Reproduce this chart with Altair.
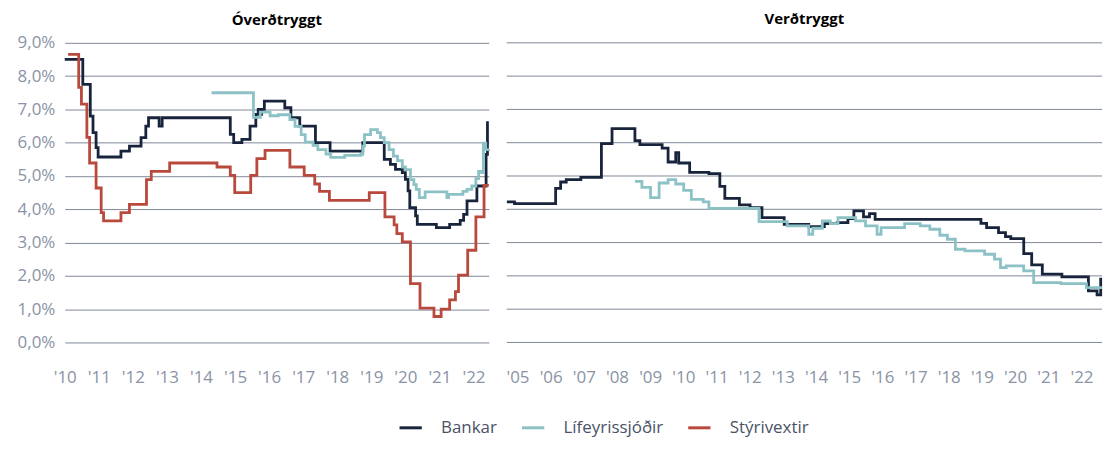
import altair as alt
import pandas as pd

# ---------------- data (percent) ----------------
series_names = ["Bankar", "Lífeyrissjóðir", "Stýrivextir"]
series_colors = ["#18243c", "#8cc2c6", "#b8493c"]

# Óverðtryggt (non-indexed)
bank_ov_t = [2010.00, 2010.53, 2010.75, 2010.83, 2010.92, 2010.98, 2011.65, 2011.90, 2012.24, 2012.38,
             2012.46, 2012.77, 2012.86, 2014.86, 2014.96, 2015.20, 2015.44, 2015.61, 2015.68, 2015.72,
             2015.78, 2015.86, 2016.46, 2016.64, 2016.90, 2017.36, 2017.79, 2018.75, 2019.38, 2019.56,
             2019.71, 2019.91, 2020.00, 2020.08, 2020.13, 2020.30, 2020.35, 2020.91, 2021.30, 2021.61,
             2021.71, 2021.81, 2022.10, 2022.37, 2022.41, 2022.45]
bank_ov_v = [8.50, 7.75, 6.80, 6.30, 5.85, 5.57, 5.75, 5.90, 6.15, 6.50,
             6.75, 6.50, 6.75, 6.25, 6.00, 6.10, 6.50, 6.85, 7.00, 6.85,
             7.00, 7.25, 7.05, 6.75, 6.50, 6.00, 5.75, 6.00, 5.50, 5.35,
             5.20, 5.10, 4.90, 4.55, 4.05, 3.80, 3.55, 3.45, 3.55, 3.67,
             3.85, 4.25, 4.70, 5.65, 6.60, 6.60]

life_ov_t = [2014.31, 2015.54, 2015.74, 2016.03, 2016.27, 2016.61, 2016.76, 2016.94, 2017.06, 2017.29,
             2017.43, 2017.67, 2017.81, 2018.22, 2018.69, 2018.75, 2018.80, 2018.98, 2019.18, 2019.27,
             2019.38, 2019.52, 2019.65, 2019.77, 2019.91, 2020.00, 2020.15, 2020.25, 2020.32, 2020.41,
             2020.58, 2021.22, 2021.27, 2021.69, 2021.81, 2021.95, 2022.07, 2022.15, 2022.24, 2022.29,
             2022.36, 2022.45]
life_ov_v = [7.50, 6.76, 6.92, 6.81, 6.84, 6.69, 6.49, 6.24, 6.02, 5.92,
             5.79, 5.66, 5.56, 5.62, 5.65, 5.90, 6.24, 6.39, 6.30, 6.15,
             6.00, 5.79, 5.60, 5.46, 5.27, 5.19, 4.89, 4.74, 4.60, 4.35,
             4.52, 4.35, 4.45, 4.54, 4.60, 4.70, 4.92, 5.14, 5.10, 5.99,
             5.79, 5.80]

rate_t = [2010.10, 2010.41, 2010.49, 2010.65, 2010.73, 2010.92, 2011.07, 2011.14, 2011.65, 2011.90,
          2012.40, 2012.54, 2013.08, 2014.47, 2014.86, 2014.99, 2015.46, 2015.64, 2015.88, 2016.61,
          2017.03, 2017.34, 2017.48, 2017.77, 2018.94, 2019.40, 2019.67, 2019.75, 2019.91, 2020.15,
          2020.43, 2020.84, 2021.05, 2021.30, 2021.47, 2021.56, 2021.83, 2022.07, 2022.31, 2022.45]
rate_v = [8.65, 7.66, 7.16, 6.16, 5.39, 4.64, 3.90, 3.65, 3.90, 4.15,
          4.89, 5.14, 5.39, 5.27, 5.02, 4.50, 5.02, 5.52, 5.77, 5.27,
          5.02, 4.76, 4.54, 4.27, 4.50, 3.77, 3.53, 3.27, 3.02, 1.77,
          1.03, 0.78, 1.00, 1.28, 1.53, 2.02, 2.77, 3.77, 4.72, 4.72]

# Verðtryggt (indexed)
bank_ve_t = [2004.68, 2004.91, 2006.15, 2006.30, 2006.47, 2006.91, 2007.53, 2007.85, 2008.54, 2008.69,
             2009.36, 2009.54, 2009.77, 2009.86, 2010.19, 2010.77, 2011.10, 2011.25, 2011.69, 2012.01,
             2012.37, 2013.04, 2013.78, 2014.25, 2014.64, 2014.96, 2015.14, 2015.43, 2015.61, 2015.78,
             2018.97, 2019.14, 2019.50, 2019.71, 2019.87, 2020.26, 2020.50, 2020.82, 2021.41, 2022.21,
             2022.47, 2022.58, 2022.62]
bank_ve_v = [4.22, 4.17, 4.63, 4.82, 4.89, 4.96, 5.97, 6.42, 6.06, 5.94,
             5.84, 5.42, 5.70, 5.39, 5.11, 5.07, 4.69, 4.33, 4.13, 4.05,
             3.75, 3.55, 3.48, 3.57, 3.60, 3.72, 3.95, 3.77, 3.87, 3.70,
             3.58, 3.45, 3.30, 3.18, 3.12, 2.67, 2.33, 2.05, 1.97, 1.55,
             1.43, 1.90, 1.90]

life_ve_t = [2008.54, 2008.75, 2009.01, 2009.27, 2009.54, 2009.77, 2010.01, 2010.24, 2010.60, 2010.77,
             2012.28, 2013.13, 2013.78, 2013.90, 2014.19, 2014.43, 2014.66, 2015.19, 2015.49, 2015.84,
             2015.96, 2016.67, 2017.14, 2017.43, 2017.73, 2017.96, 2018.20, 2018.49, 2019.08, 2019.38,
             2019.56, 2019.73, 2020.26, 2020.56, 2021.38, 2022.15, 2022.62]
life_ve_v = [4.84, 4.66, 4.35, 4.79, 4.89, 4.76, 4.57, 4.30, 4.22, 4.03,
             3.63, 3.50, 3.25, 3.43, 3.65, 3.57, 3.75, 3.65, 3.50, 3.25,
             3.45, 3.57, 3.50, 3.40, 3.22, 3.10, 2.80, 2.75, 2.65, 2.50,
             2.25, 2.30, 2.15, 1.80, 1.77, 1.65, 1.65]

left_years = list(range(2010, 2023))
right_years = list(range(2005, 2023))
y_ticks = [0, 1, 2, 3, 4, 5, 6, 7, 8, 9]


def frame(ts, vs, name):
    return pd.DataFrame({"year": ts, "value": vs, "series": name})


df_ov = pd.concat([frame(bank_ov_t, bank_ov_v, "Bankar"),
                   frame(life_ov_t, life_ov_v, "Lífeyrissjóðir"),
                   frame(rate_t, rate_v, "Stýrivextir")], ignore_index=True)
df_ve = pd.concat([frame(bank_ve_t, bank_ve_v, "Bankar"),
                   frame(life_ve_t, life_ve_v, "Lífeyrissjóðir")], ignore_index=True)
df_grid = pd.DataFrame({"v": y_ticks})

LABEL_COLOR = "#8a93a5"
GRID_COLOR = "#7f8796"
FONT = "Open Sans"
H = 301

color = alt.Color("series:N",
                  scale=alt.Scale(domain=series_names, range=series_colors),
                  legend=alt.Legend(title=None, orient="none", legendX=338, legendY=377,
                                    direction="horizontal"))
yscale = alt.Scale(domain=[0, 9], nice=False)


def xenc(domain, years):
    return alt.X("year:Q",
                 scale=alt.Scale(domain=domain, nice=False, zero=False),
                 axis=alt.Axis(values=years, grid=False, domain=False, ticks=False,
                               labelExpr="\"'\" + slice(format(datum.value, 'd'), 2)",
                               labelFontSize=17, labelColor=LABEL_COLOR, labelPadding=27,
                               labelFlush=False, title=None))


def title(text, off):
    return alt.TitleParams(text, fontSize=15, fontWeight="bold", color="#000000",
                           anchor="middle", offset=off, font=FONT)


# left panel: y axis with labels and grid
left = alt.Chart(df_ov).mark_line(interpolate="step-after", strokeWidth=2.8).encode(
    x=xenc([2010, 2022.45], left_years),
    y=alt.Y("value:Q", scale=yscale,
            axis=alt.Axis(values=y_ticks, grid=True, gridColor=GRID_COLOR, gridWidth=1,
                          domain=False, ticks=False,
                          labelExpr="replace(format(datum.value, '.1f'), '.', ',') + '%'",
                          labelFontSize=17, labelColor=LABEL_COLOR, labelPadding=10,
                          minExtent=57, maxExtent=57, title=None)),
    color=color,
).properties(width=426, height=H, title=title("Óverðtryggt", 6))

# right panel: gridlines only (no y labels)
grid_r = alt.Chart(df_grid).mark_rule(color=GRID_COLOR, strokeWidth=1).encode(
    y=alt.Y("v:Q", scale=yscale, axis=None)
)
lines_r = alt.Chart(df_ve).mark_line(interpolate="step-after", strokeWidth=2.8).encode(
    x=xenc([2004.676, 2022.62], right_years),
    y=alt.Y("value:Q", scale=yscale, axis=None),
    color=color,
)
right = alt.layer(grid_r, lines_r).properties(width=598, height=H,
                                              title=title("Verðtryggt", 15))

chart = alt.hconcat(left, right, spacing=6).properties(
    padding={"left": 0, "top": 3, "right": 0, "bottom": 3}
).configure(font=FONT).configure_view(stroke=None).configure_legend(
    labelFontSize=17, labelColor="#4a5366",
    symbolType="M-1.4,0L1.4,0", symbolStrokeWidth=3, symbolSize=256, columnPadding=18,
    labelOffset=21
)

chart.save("out.html", embed_options={"renderer": "svg", "actions": False})
